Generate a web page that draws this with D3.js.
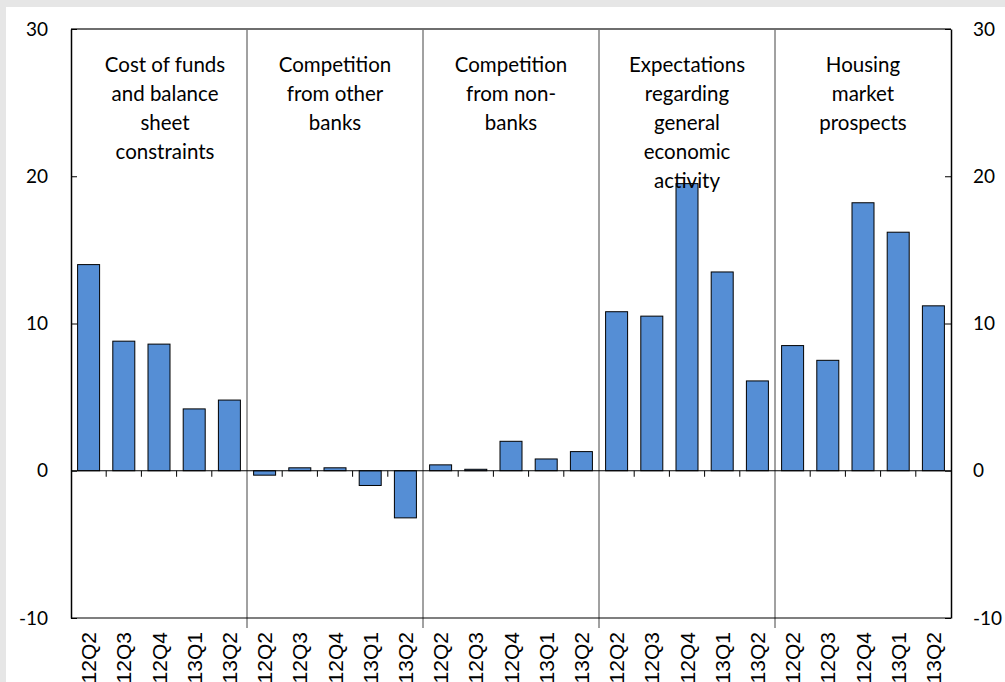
<!DOCTYPE html>
<html>
<head>
<meta charset="utf-8">
<script src="https://cdn.jsdelivr.net/npm/d3@7"></script>
<style>
  body { margin: 0; background: #e6e6e6; overflow: hidden; }
</style>
</head>
<body>
<div id="chart"></div>
<script>
// quarters repeat inside each factor group
var quarters = ["2012Q2", "2012Q3", "2012Q4", "2013Q1", "2013Q2"];
var groupLabels = [
    ["Cost of funds", "and balance", "sheet", "constraints"],
    ["Competition", "from other", "banks"],
    ["Competition", "from non-", "banks"],
    ["Expectations", "regarding", "general", "economic", "activity"],
    ["Housing", "market", "prospects"]
];
var costOfFunds   = [14.0, 8.8, 8.6, 4.2, 4.8];
var otherBanks    = [-0.3, 0.2, 0.2, -1.0, -3.2];
var nonBanks      = [0.4, 0.1, 2.0, 0.8, 1.3];
var expectations  = [10.8, 10.5, 19.5, 13.5, 6.1];
var housingMarket = [8.5, 7.5, 18.2, 16.2, 11.2];
var yTicks = [-10, 0, 10, 20, 30];

var W = 1005, H = 682;
// plot box (note: "top" is taken by window.top)
var plotLeft = 71, plotRight = 951, plotTop = 29, plotBottom = 618;

var series = [costOfFunds, otherBanks, nonBanks, expectations, housingMarket];
var bars = [];
series.forEach(function(s, g) {
    s.forEach(function(v, q) {
        bars.push({key: g + "-" + q, group: g, quarter: quarters[q], value: v});
    });
});

var x = d3.scaleBand()
    .domain(bars.map(function(d) { return d.key; }))
    .range([plotLeft, plotRight])
    .paddingInner(0.375)
    .paddingOuter(0.1875);
var step = x.step();

var y = d3.scaleLinear().domain([-10, 30]).range([plotBottom, plotTop]);

var svg = d3.select("#chart").append("svg")
    .attr("width", W)
    .attr("height", H)
    .style("display", "block");

// white panel on grey page
svg.append("rect")
    .attr("x", 6).attr("y", 7)
    .attr("width", W - 6).attr("height", H - 7)
    .attr("fill", "white");

// title, cut off above the picture: only descenders show
svg.append("text")
    .attr("x", 10).attr("y", -4)
    .attr("fill", "#16a0a0")
    .attr("font-family", "Lato, sans-serif")
    .attr("font-weight", "bold")
    .attr("font-size", 22)
    .text("Graph: Factors affecting supply of housing loans, by quarter");

// group dividers
for (var g = 1; g < 5; g++) {
    var gx = plotLeft + g * 5 * step;
    svg.append("line")
        .attr("x1", gx).attr("x2", gx)
        .attr("y1", plotTop).attr("y2", plotBottom + 10)
        .attr("stroke", "#444").attr("stroke-width", 1);
}

// bars
svg.append("g").selectAll("rect")
    .data(bars)
    .enter()
    .append("rect")
    .attr("x", function(d) { return x(d.key); })
    .attr("width", x.bandwidth())
    .attr("y", function(d) { return y(Math.max(0, d.value)); })
    .attr("height", function(d) { return Math.abs(y(d.value) - y(0)); })
    .attr("fill", "#558ed5")
    .attr("stroke", "black")
    .attr("stroke-width", 1);

// zero line + ticks between categories
svg.append("line")
    .attr("x1", plotLeft).attr("x2", plotRight)
    .attr("y1", y(0)).attr("y2", y(0))
    .attr("stroke", "black").attr("stroke-width", 1.2);
for (var i = 1; i < bars.length; i++) {
    if (i % 5 === 0) continue;
    var tx = plotLeft + i * step;
    svg.append("line")
        .attr("x1", tx).attr("x2", tx)
        .attr("y1", y(0)).attr("y2", y(0) + 6)
        .attr("stroke", "black").attr("stroke-width", 1);
}

// frame
svg.append("line")
    .attr("x1", plotLeft).attr("x2", plotRight)
    .attr("y1", plotTop).attr("y2", plotTop)
    .attr("stroke", "#6e6e6e").attr("stroke-width", 2);
svg.append("line")
    .attr("x1", plotLeft).attr("x2", plotRight)
    .attr("y1", plotBottom).attr("y2", plotBottom)
    .attr("stroke", "black").attr("stroke-width", 1.2);

// y axes, ticks pointing inside
var yLeft = svg.append("g")
    .attr("transform", "translate(" + plotLeft + ",0)")
    .call(d3.axisRight(y).tickValues(yTicks).tickSize(6).tickSizeOuter(0).tickFormat(""));
var yRight = svg.append("g")
    .attr("transform", "translate(" + plotRight + ",0)")
    .call(d3.axisLeft(y).tickValues(yTicks).tickSize(6).tickSizeOuter(0).tickFormat(""));
[yLeft, yRight].forEach(function(a) {
    a.select(".domain").attr("stroke", "black").attr("stroke-width", 1.5);
    a.selectAll(".tick line").attr("stroke", "black");
});

svg.append("g").selectAll("text")
    .data(yTicks)
    .enter()
    .append("text")
    .attr("x", 48)
    .attr("y", function(d) { return y(d); })
    .attr("dy", "0.35em")
    .attr("text-anchor", "end")
    .attr("font-family", "Lato, sans-serif")
    .attr("font-size", 19)
    .attr("fill", "black")
    .text(function(d) { return d; });

svg.append("g").selectAll("text")
    .data(yTicks)
    .enter()
    .append("text")
    .attr("x", 973)
    .attr("y", function(d) { return y(d); })
    .attr("dy", "0.35em")
    .attr("text-anchor", "start")
    .attr("font-family", "Lato, sans-serif")
    .attr("font-size", 19)
    .attr("fill", "black")
    .text(function(d) { return d; });

// category labels (rotated)
svg.append("g").selectAll("text")
    .data(bars)
    .enter()
    .append("text")
    .attr("transform", function(d) {
        return "translate(" + (x(d.key) + x.bandwidth() / 2) + "," + 632 + ") rotate(-90)";
    })
    .attr("dy", "0.36em")
    .attr("text-anchor", "end")
    .attr("font-family", "'Liberation Sans', Arial, sans-serif")
    .attr("font-size", 21)
    .attr("fill", "black")
    .text(function(d) { return d.quarter; });

// group annotations
var ann = svg.append("g").selectAll("text")
    .data(groupLabels)
    .enter()
    .append("text")
    .attr("text-anchor", "middle")
    .attr("font-family", "Lato, sans-serif")
    .attr("font-size", 20.5)
    .attr("fill", "black");
ann.each(function(lines, gi) {
    var cx = plotLeft + (gi * 5 + 2.5) * step + (gi === 0 ? 6 : 0);
    d3.select(this).selectAll("tspan")
        .data(lines)
        .enter()
        .append("tspan")
        .attr("x", cx)
        .attr("y", function(d, i) { return 72 + i * 29; })
        .text(function(d) { return d; });
});
</script>
</body>
</html>
